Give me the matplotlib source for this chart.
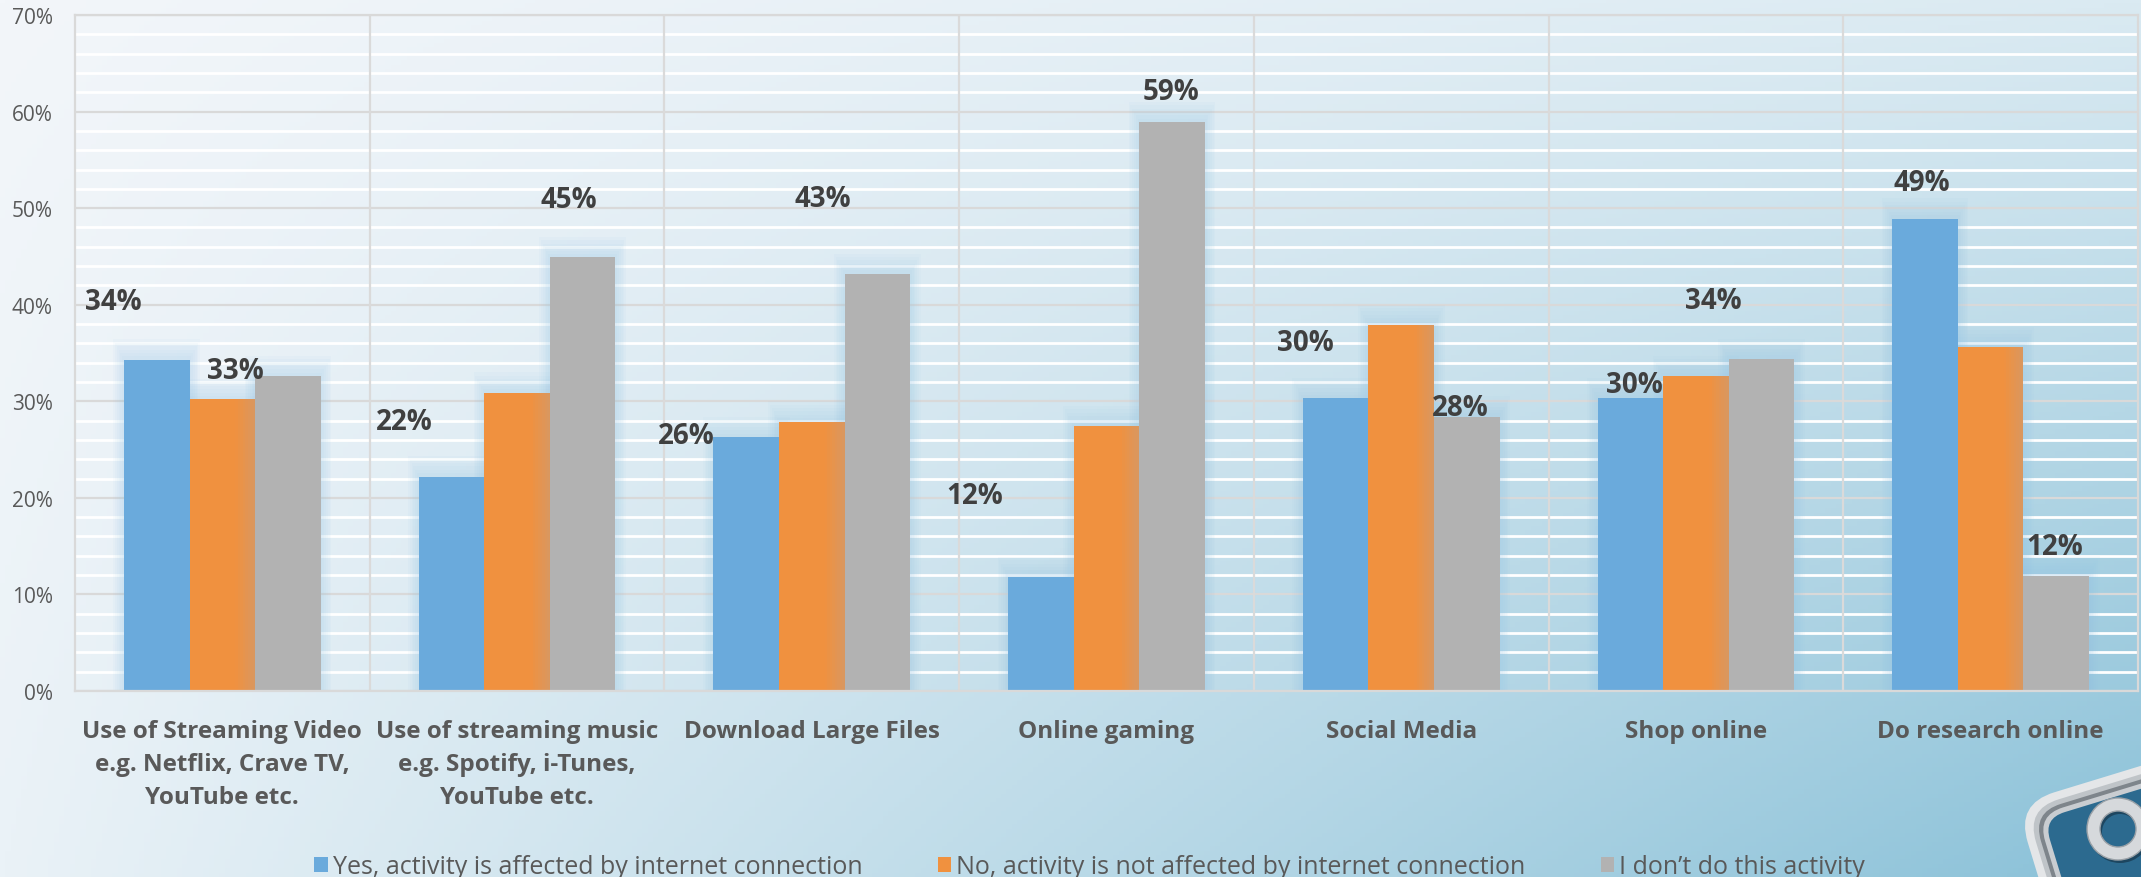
import numpy as np
import matplotlib
matplotlib.use('Agg')
import matplotlib.pyplot as plt
import matplotlib.transforms as mtransforms
from matplotlib.ticker import PercentFormatter, MultipleLocator
from matplotlib.patches import Patch, FancyBboxPatch, Wedge

plt.rcParams['font.family'] = ['Open Sans', 'DejaVu Sans']

categories = [
    "Use of Streaming Video\ne.g. Netflix, Crave TV,\nYouTube etc.",
    "Use of streaming music\ne.g. Spotify, i-Tunes,\nYouTube etc.",
    "Download Large Files",
    "Online gaming",
    "Social Media",
    "Shop online",
    "Do research online",
]
series_names = [
    "Yes, activity is affected by internet connection",
    "No, activity is not affected by internet connection",
    "I don\u2019t do this activity",
]
yes_vals = [0.343, 0.222, 0.263, 0.118, 0.303, 0.303, 0.489]
no_vals = [0.302, 0.309, 0.279, 0.274, 0.379, 0.326, 0.356]
dont_vals = [0.326, 0.449, 0.432, 0.589, 0.284, 0.344, 0.119]

colors = ['#6aaadc', '#f0913f', '#b2b2b2']

# data labels were dragged around by hand in the original, offsets in points
yes_offsets = [(-31, 42), (-34, 40), (-43, 1), (-48, 59), (-22, 40), (3, 10), (-2, 26)]
dont_offsets = [(-38, 4), (-10, 42), (-39, 54), (-1, 22), (-5, 7), (-35, 42), (-1, 21)]

W, H = 2141, 878
fig = plt.figure(figsize=(W / 100, H / 100), dpi=100)

# background gradient
bg = fig.add_axes([0, 0, 1, 1], zorder=-10)
gx, gy = np.meshgrid(np.linspace(0, 1, 400), np.linspace(0, 1, 200))
tl = np.array([243, 246, 250]) / 255
tr = np.array([218, 234, 242]) / 255
bl = np.array([234, 242, 247]) / 255
br = np.array([138, 193, 216]) / 255
u = gx[..., None]
v = gy[..., None]
img = tl * (1 - u) * (1 - v) + tr * u * (1 - v) + bl * (1 - u) * v + br * u * v
bg.imshow(img, extent=(0, W, 0, H), origin='upper', aspect='auto')
bg.set_xlim(0, W)
bg.set_ylim(0, H)
bg.axis('off')

# logo peeking in from the corner
t = mtransforms.Affine2D().rotate_deg(17).translate(2016, 73) + bg.transData
layers = [(0, '#e4e6e8', 40), (8, '#bfc4c8', 34), (13, '#7e858b', 30), (17, '#c9cdd1', 27), (22, '#2c6a8f', 22)]
for inset, fc, rs in layers:
    p = FancyBboxPatch((inset, -240 + inset), 240 - 2 * inset, 240 - 2 * inset,
                       boxstyle='round,pad=0,rounding_size=%d' % rs, facecolor=fc, lw=0)
    p.set_transform(t)
    bg.add_patch(p)
bg.add_patch(Wedge((2120, 45), 31, 0, 360, width=13, facecolor='#1d4660', lw=0))
bg.add_patch(Wedge((2118, 48), 31, 0, 360, width=13, facecolor='#d6d9dc', edgecolor='#9aa1a7', lw=1))

# main plot
ax = fig.add_axes([75 / W, (H - 692) / H, (2138 - 75) / W, (692 - 16) / H])
ax.patch.set_alpha(0)

x = np.arange(len(categories))
w = 0.2225
vals = [yes_vals, no_vals, dont_vals]

for i, (sv, c) in enumerate(zip(vals, colors)):
    pos = x + (i - 1) * w
    # soft glow
    for k in range(1, 7):
        ax.bar(pos, np.array(sv) + 0.0035 * k, width=w + 0.012 * k,
               color='#8fc3e6', alpha=0.05, zorder=1, lw=0)
    ax.bar(pos, sv, width=w, color=c, zorder=2, lw=0)

# orange bars get a muted right edge
n = 8
sw = 0.3 * w / n
o1 = np.array([240, 145, 63]) / 255
o2 = np.array([216, 151, 96]) / 255
for j in range(n):
    tt = (j + 0.5) / n
    left = x + w / 2 - 0.3 * w + j * sw
    ax.bar(left, no_vals, width=sw, align='edge', color=o1 * (1 - tt) + o2 * tt, zorder=2.1, lw=0)

for xi, v_, off in zip(x - w, yes_vals, yes_offsets):
    ax.annotate('{:.0f}%'.format(v_ * 100), xy=(xi, v_), xytext=off, textcoords='offset points',
                ha='center', va='center', fontsize=20, fontweight='bold', color='#404040', zorder=5)
for xi, v_, off in zip(x + w, dont_vals, dont_offsets):
    ax.annotate('{:.0f}%'.format(v_ * 100), xy=(xi, v_), xytext=off, textcoords='offset points',
                ha='center', va='center', fontsize=20, fontweight='bold', color='#404040', zorder=5)

ax.set_xlim(-0.5, len(categories) - 0.5)
ax.set_ylim(0, 0.7)
ax.yaxis.set_major_locator(MultipleLocator(0.1))
ax.yaxis.set_minor_locator(MultipleLocator(0.02))
ax.yaxis.set_major_formatter(PercentFormatter(1.0, decimals=0))
ax.set_xticks(x)
ax.set_xticklabels(categories, fontsize=17.5, fontweight='bold', color='#595959', linespacing=1.5)

ax.set_axisbelow(True)
ax.yaxis.grid(True, which='minor', color='white', lw=2)
ax.yaxis.grid(True, which='major', color='#d9d9d9', lw=1.6)
ax.xaxis.grid(False)
# group separators sit on top of the white minor lines
ax.vlines(np.arange(0.5, len(categories) - 0.5, 1), 0, 0.7, color='#dadada', lw=1.6, zorder=0.8)

ax.tick_params(axis='both', which='both', length=0)
ax.tick_params(axis='y', labelsize=15, labelcolor='#595959', pad=16)
ax.tick_params(axis='x', pad=20)
for s in ax.spines.values():
    s.set_color('#d9d9d9')
    s.set_linewidth(1.6)

handles = [Patch(facecolor=c) for c in colors]
fig.legend(handles, series_names, loc='center', bbox_to_anchor=(0.509, 0.012), ncol=3,
           frameon=False, fontsize=18, handlelength=0.55, handleheight=0.55,
           handletextpad=0.2, columnspacing=3.0, labelcolor='#595959')

fig.savefig('out.png', dpi=100)
